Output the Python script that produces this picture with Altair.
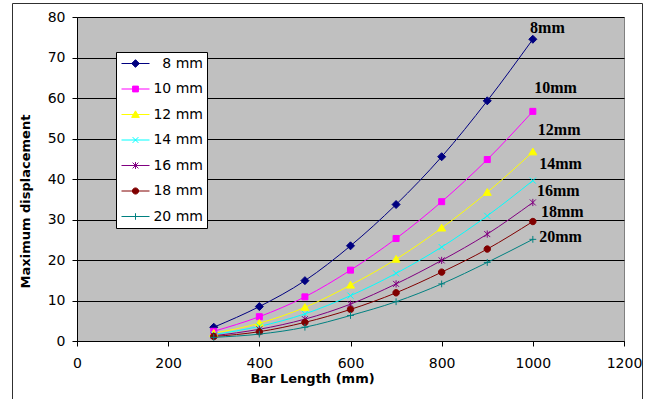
import math
import re
import altair as alt
import pandas as pd

# ---------------- data ----------------
lengths = [300, 400, 500, 600, 700, 800, 900, 1000]
series = ["8 mm", "10 mm", "12 mm", "14 mm", "16 mm", "18 mm", "20 mm"]
disp_8 = [3.4, 8.5, 14.9, 23.5, 33.7, 45.5, 59.3, 74.5]
disp_10 = [2.4, 6.0, 10.9, 17.5, 25.3, 34.4, 44.8, 56.7]
disp_12 = [1.9, 4.4, 8.3, 13.8, 20.2, 27.9, 36.7, 46.7]
disp_14 = [1.6, 3.6, 6.7, 11.2, 16.7, 23.2, 30.9, 39.6]
disp_16 = [1.3, 2.9, 5.4, 9.1, 14.1, 19.9, 26.4, 34.2]
disp_18 = [1.1, 2.3, 4.6, 7.8, 11.9, 17.0, 22.7, 29.5]
disp_20 = [0.9, 1.7, 3.4, 6.3, 9.7, 14.1, 19.4, 25.1]

end_labels = ["8mm", "10mm", "12mm", "14mm", "16mm", "18mm", "20mm"]
end_label_x = [994, 1003, 1011, 1014, 1009, 1018, 1014]
end_label_y = [76.1, 61.2, 50.9, 42.4, 35.9, 30.5, 24.5]

x_ticks = [0, 200, 400, 600, 800, 1000, 1200]
y_ticks = [0, 10, 20, 30, 40, 50, 60, 70, 80]

colors = ["#000080", "#FF00FF", "#FFFF00", "#00FFFF", "#800080", "#800000", "#008080"]

# ---------------- marker shapes (styling) ----------------
def polygon(n, r):
    pts = [(r * math.cos(2 * math.pi * i / n), r * math.sin(2 * math.pi * i / n)) for i in range(n)]
    return "M" + "L".join(f"{px:.3f},{py:.3f}" for px, py in pts) + "Z"

marker_paths = [
    "M0,-1L1,0L0,1L-1,0Z",                                   # diamond
    "M-0.75,-0.75L0.75,-0.75L0.75,0.75L-0.75,0.75Z",         # square
    "M0,-0.95L1,0.75L-1,0.75Z",                              # triangle
    "M-0.75,-0.75L0.75,0.75M-0.75,0.75L0.75,-0.75",          # x
    "M-0.75,-0.75L0.75,0.75M-0.75,0.75L0.75,-0.75M0,-0.9L0,0.9",  # asterisk
    polygon(16, 0.8),                                        # circle
    "M-0.85,0L0.85,0M0,-0.85L0,0.85",                        # plus
]

def scale_path(p, k):
    return re.sub(r"-?\d+(?:\.\d+)?", lambda m: f"{float(m.group()) * k:.3f}", p)

legend_paths = ["M-2,0L2,0" + scale_path(p, 0.55) for p in marker_paths]

# ---------------- tables ----------------
all_vals = [disp_8, disp_10, disp_12, disp_14, disp_16, disp_18, disp_20]
rows = []
for s, vals in zip(series, all_vals):
    for L, v in zip(lengths, vals):
        rows.append({"series": s, "length": L, "disp": v})
df = pd.DataFrame(rows)

lab_df = pd.DataFrame({"label": end_labels, "length": end_label_x, "disp": end_label_y})

# ---------------- encodings ----------------
FONT = "DejaVu Sans"

x_enc = alt.X(
    "length:Q",
    title="Bar Length (mm)",
    scale=alt.Scale(domain=[0, 1200], nice=False),
    axis=alt.Axis(
        values=x_ticks, format="d", grid=False, domainColor="black", tickColor="black", tickSize=5,
        labelFont=FONT, labelFontSize=14, labelColor="black", labelPadding=10, labelFlush=False,
        titleFont=FONT, titleFontSize=13, titleFontWeight="bold", titleColor="black",
        titleX=235, titleY=41, titleBaseline="alphabetic", titleAlign="center",
    ),
)
y_enc = alt.Y(
    "disp:Q",
    title="Maximum displacement",
    scale=alt.Scale(domain=[0, 80], nice=False),
    axis=alt.Axis(
        values=y_ticks, grid=True, gridColor="black", gridWidth=1, gridOpacity=1,
        domainColor="black", tickColor="black", tickSize=5,
        labelFont=FONT, labelFontSize=14, labelColor="black", labelPadding=7, labelFlush=False,
        titleFont=FONT, titleFontSize=13, titleFontWeight="bold", titleColor="black",
        titleX=-48, titleY=184, titleAngle=270, titleBaseline="alphabetic", titleAlign="center",
    ),
)

color_scale = alt.Scale(domain=series, range=colors)

frame = alt.Chart(pd.DataFrame({"k": [0]})).mark_rect(
    fillOpacity=0, stroke="#303030", strokeWidth=1
).encode(
    x=alt.value(-64.5), x2=alt.value(565.5), y=alt.value(-13.5), y2=alt.value(395)
)

lines = alt.Chart(df).mark_line(strokeWidth=1, interpolate="monotone").encode(
    x=x_enc, y=y_enc,
    color=alt.Color("series:N", scale=color_scale, legend=None),
)

points = alt.Chart(df).mark_point(filled=True, size=64, strokeWidth=1, opacity=1).encode(
    x=x_enc, y=y_enc,
    fill=alt.Fill("series:N", scale=color_scale, legend=None),
    stroke=alt.Stroke("series:N", scale=color_scale, legend=None),
    shape=alt.Shape("series:N", scale=alt.Scale(domain=series, range=marker_paths), legend=None),
)

labels = alt.Chart(lab_df).mark_text(
    font="Liberation Serif", fontWeight="bold", fontSize=16,
    align="left", baseline="alphabetic", color="black",
).encode(x=x_enc, y=y_enc, text="label:N")

leg = alt.Legend(
    title=None, orient="none", legendX=39, legendY=35, direction="vertical",
    fillColor="white", strokeColor="black", padding=4,
    symbolSize=196, symbolOffset=8, symbolStrokeWidth=1,
    labelOffset=60, labelAlign="right", rowPadding=10.5,
    labelFont=FONT, labelFontSize=14, labelColor="black",
)

legend_layer = alt.Chart(df).transform_filter("false").mark_point(
    filled=True, size=196, strokeWidth=1, opacity=1
).encode(
    x=x_enc, y=y_enc,
    fill=alt.Fill("series:N", scale=color_scale, legend=leg),
    stroke=alt.Stroke("series:N", scale=color_scale, legend=leg),
    shape=alt.Shape("series:N", scale=alt.Scale(domain=series, range=legend_paths), legend=leg),
)

chart = alt.layer(frame, lines, points, labels, legend_layer).resolve_scale(
    color="independent", fill="independent", stroke="independent", shape="independent"
).properties(
    width=547, height=324,
    padding={"left": 77, "top": 17, "right": 24, "bottom": 58},
    autosize=alt.AutoSizeParams(type="none"),
    background="white",
).configure_view(fill="#C0C0C0", stroke="#808080", strokeWidth=1)

chart.save("out.html", embed_options={"renderer": "svg", "actions": False})
